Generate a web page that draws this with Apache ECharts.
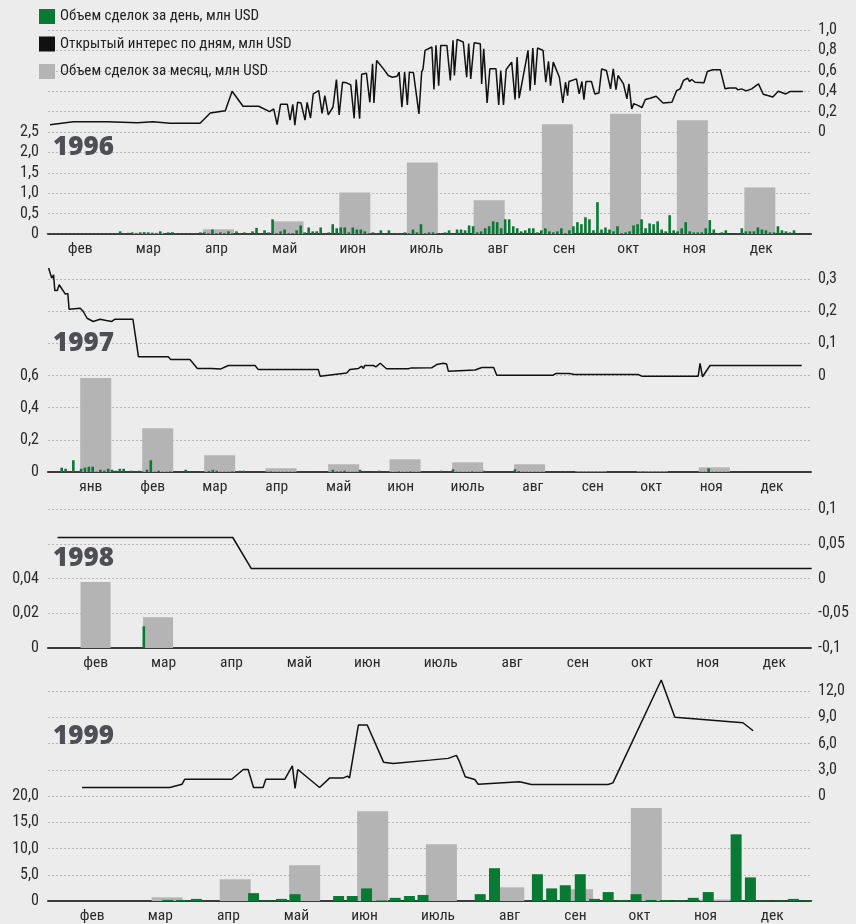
<!DOCTYPE html>
<html><head><meta charset="utf-8">
<script src="https://cdn.jsdelivr.net/npm/echarts@6/dist/echarts.min.js"></script>
<style>html,body{margin:0;padding:0;background:#ececec}#c{width:856px;height:924px}</style>
</head><body><div id="c"></div>
<script>
// ---------- DATA (x in months from 1 Jan: 0 = Jan 1, 1.5 = mid-Feb) ----------
const monthNames = ['янв','фев','мар','апр','май','июн','июль','авг','сен','окт','ноя','дек'];
const monthTicks = [0.5,1.5,2.5,3.5,4.5,5.5,6.58,7.63,8.6,9.54,10.51,11.49];
const seriesNames = ['Объем сделок за день, млн USD','Открытый интерес по дням, млн USD','Объем сделок за месяц, млн USD'];

// 1996
const monthly1996 = [[2.5,0.03],[3.53,0.115],[4.55,0.31],[5.53,1.02],[6.52,1.75],[7.5,0.83],[8.5,2.69],[9.5,2.95],[10.48,2.79],[11.47,1.14]];
const daily1996 = [ // Feb .. Dec, trading days
 [0.02,0.02,0.02,0.02,0.02,0.02,0.02,0.02,0.02,0.02,0.02,0.02,0.02,0.02,0.02,0.02,0.02],
 [0.025,0.065,0.02,0.03,0.04,0.02,0.04,0.045,0.04,0.03,0.02,0.065,0.02,0.04,0.045,0.02,0.025],
 [0.02,0.02,0.02,0.02,0.04,0.04,0.02,0.11,0.02,0.04,0.02,0.065,0.02,0.065,0.02,0.04,0.02],
 [0.065,0.15,0.02,0.09,0.04,0.36,0.02,0.065,0.11,0.02,0.02,0.09,0.21,0.04,0.16,0.065,0.065],
 [0.16,0.02,0.04,0.24,0.14,0.16,0.16,0.04,0.16,0.11,0.11,0.065,0.02,0.04,0.02,0.09,0.02],
 [0.09,0.02,0.02,0.02,0.04,0.02,0.11,0.04,0.24,0.02,0.04,0.04,0.02,0.02,0.04,0.09,0.02],
 [0.11,0.11,0.09,0.21,0.19,0.04,0.065,0.14,0.19,0.31,0.29,0.14,0.36,0.36,0.19,0.14,0.065],
 [0.09,0.14,0.14,0.04,0.09,0.14,0.065,0.04,0.065,0.14,0.02,0.09,0.19,0.29,0.24,0.41,0.36],
 [0.09,0.78,0.11,0.16,0.11,0.065,0.19,0.02,0.04,0.065,0.21,0.24,0.36,0.14,0.26,0.24,0.31],
 [0.11,0.065,0.46,0.09,0.065,0.14,0.29,0.065,0.04,0.04,0.04,0.14,0.34,0.11,0.02,0.04,0.09],
 [0.005,0.005,0.02,0.14,0.065,0.065,0.065,0.16,0.11,0.09,0.04,0.04,0.19,0.09,0.065,0.04,0.09]
];
const line1996 = [[1.06,0.072],[1.40,0.10],[1.90,0.10],[2.34,0.09],[2.57,0.10],[2.82,0.085],[3.26,0.085],[3.41,0.186],[3.63,0.209],[3.73,0.40],[3.89,0.252],[4.12,0.252],[4.28,0.20],[4.34,0.226],[4.39,0.072],[4.44,0.272],[4.54,0.272],[4.58,0.117],[4.62,0.272],[4.65,0.068],[4.69,0.291],[4.74,0.285],[4.80,0.117],[4.83,0.291],[4.88,0.137],[4.92,0.373],[5.00,0.406],[5.05,0.183],[5.09,0.357],[5.14,0.167],[5.21,0.245],[5.26,0.514],[5.30,0.167],[5.35,0.488],[5.41,0.482],[5.47,0.462],[5.52,0.134],[5.55,0.514],[5.60,0.131],[5.63,0.567],[5.70,0.577],[5.75,0.291],[5.79,0.669],[5.81,0.285],[5.85,0.701],[5.95,0.619],[6.02,0.554],[6.08,0.537],[6.15,0.547],[6.18,0.587],[6.22,0.242],[6.26,0.587],[6.30,0.265],[6.33,0.587],[6.39,0.580],[6.47,0.177],[6.51,0.587],[6.53,0.619],[6.56,0.80],[6.66,0.833],[6.69,0.416],[6.72,0.849],[6.76,0.455],[6.79,0.849],[6.88,0.849],[6.93,0.505],[6.97,0.898],[6.99,0.554],[7.03,0.908],[7.12,0.882],[7.17,0.537],[7.20,0.866],[7.23,0.521],[7.28,0.875],[7.37,0.866],[7.39,0.472],[7.42,0.816],[7.47,0.285],[7.51,0.619],[7.60,0.619],[7.64,0.265],[7.67,0.603],[7.71,0.265],[7.75,0.613],[7.83,0.685],[7.88,0.318],[7.91,0.734],[7.94,0.331],[8.07,0.80],[8.10,0.406],[8.14,0.823],[8.17,0.462],[8.21,0.823],[8.29,0.80],[8.33,0.488],[8.37,0.692],[8.40,0.455],[8.44,0.685],[8.53,0.537],[8.58,0.285],[8.62,0.488],[8.65,0.357],[8.67,0.495],[8.78,0.521],[8.82,0.373],[8.86,0.495],[8.89,0.318],[8.92,0.495],[9.00,0.495],[9.05,0.373],[9.11,0.383],[9.15,0.619],[9.22,0.603],[9.28,0.423],[9.32,0.619],[9.36,0.416],[9.39,0.554],[9.47,0.472],[9.52,0.324],[9.55,0.472],[9.59,0.226],[9.62,0.278],[9.69,0.259],[9.74,0.239],[9.79,0.318],[9.86,0.331],[9.95,0.350],[10.05,0.285],[10.18,0.291],[10.25,0.406],[10.30,0.423],[10.35,0.505],[10.41,0.528],[10.44,0.495],[10.47,0.515],[10.52,0.488],[10.65,0.482],[10.70,0.593],[10.78,0.610],[10.89,0.610],[10.96,0.423],[11.02,0.432],[11.12,0.432],[11.15,0.413],[11.20,0.423],[11.27,0.403],[11.35,0.423],[11.45,0.472],[11.52,0.370],[11.66,0.344],[11.74,0.400],[11.85,0.373],[11.91,0.396],[11.96,0.396],[12.10,0.396]];

// 1997
const monthly1997 = [[0.58,0.584],[1.58,0.272],[2.58,0.104],[3.57,0.023],[4.58,0.048],[5.57,0.079],[6.58,0.06],[7.58,0.048],[8.57,0.005],[9.56,0.005],[10.56,0.029]];
const daily1997 = [ // Jan .. Dec
 [0.027,0.02,0.002,0.073,0.002,0.02,0.027,0.033,0.033,0.002,0.014,0.008,0.02,0.014,0.008,0.02],
 [0.02,0.002,0.008,0.002,0.008,0.002,0.014,0.073,0.002,0.008,0.002,0.002,0.004,0.002,0.002,0.002],
 [0.014,0.002,0.002,0.002,0.004,0.002,0.006,0.014,0.008,0.002,0.002,0.002,0.004,0.002,0.008,0.008],
 [0.002,0.002,0.002,0.002,0.002,0.002,0.004,0.002,0.002,0.002,0.002,0.002,0.002,0.002,0.002,0.002],
 [0.002,0.002,0.002,0.002,0.002,0.002,0.014,0.004,0.004,0.008,0.002,0.002,0.002,0.014,0.002,0.002],
 [0.002,0.004,0.008,0.002,0.004,0.002,0.002,0.004,0.002,0.002,0.004,0.002,0.002,0.002,0.002,0.002],
 [0.002,0.002,0.008,0.002,0.002,0.017,0.002,0.002,0.002,0.002,0.004,0.002,0.002,0.008,0.002,0.002],
 [0.002,0.002,0.002,0.002,0.002,0.017,0.006,0.002,0.002,0.002,0.002,0.002,0.002,0.002,0.002,0.002],
 [0.002,0.002,0.004,0.002,0.002,0.002,0.002,0.002,0.002,0.002,0.002,0.002,0.002,0.002,0.002,0.002],
 [0.002,0.002,0.002,0.002,0.002,0.002,0.004,0.002,0.002,0.002,0.002,0.002,0.002,0.002,0.002,0.002],
 [0.002,0.002,0.002,0.002,0.002,0.002,0.002,0.023,0.002,0.002,0.002,0.002,0.002,0.002,0.002,0.002],
 [0.001,0.001,0.001,0.001,0.001,0.001,0.001,0.001,0.001,0.001,0.001,0.001,0.001,0.001,0.001,0.001]
];
const line1997 = [[-0.18,0.334],[-0.13,0.303],[-0.10,0.313],[-0.08,0.264],[-0.04,0.264],[-0.01,0.282],[0.09,0.253],[0.13,0.255],[0.15,0.206],[0.33,0.209],[0.38,0.199],[0.44,0.178],[0.54,0.168],[0.65,0.175],[0.75,0.171],[0.84,0.168],[0.89,0.175],[1.18,0.175],[1.27,0.058],[1.75,0.058],[1.79,0.050],[2.10,0.050],[2.22,0.022],[2.45,0.022],[2.48,0.019],[2.59,0.020],[2.72,0.031],[3.15,0.031],[3.20,0.019],[4.17,0.019],[4.20,-0.002],[4.63,0.008],[4.68,0.019],[4.82,0.022],[4.87,0.029],[4.90,0.022],[4.92,0.031],[5.06,0.031],[5.10,0.027],[5.17,0.038],[5.27,0.021],[5.62,0.021],[5.66,0.023],[6.00,0.024],[6.08,0.034],[6.19,0.038],[6.24,0.036],[6.27,0.013],[6.70,0.017],[6.81,0.025],[7.00,0.025],[7.05,0.001],[7.96,0.001],[8.00,0.006],[8.22,0.006],[8.30,0.003],[9.33,0.003],[9.39,-0.002],[10.30,-0.002],[10.33,0.038],[10.37,-0.004],[10.49,0.031],[11.97,0.031]];

// 1998
const monthly1998 = [[1.5,0.038],[2.42,0.0177]];
const daily1998 = [[2.21,0.0125]];
const line1998 = [[0.94,0.059],[3.52,0.059],[3.79,0.0144],[12.04,0.0144]];

// 1999
const monthly1999 = [[2.60,0.7],[3.60,4.14],[4.62,6.81],[5.62,17.1],[6.63,10.8],[7.62,2.6],[8.63,2.25],[9.64,17.7],[10.65,0.3]];
const daily1999 = [[2.61,0.2],[2.81,0.2],[3.03,0.4],[3.87,1.5],[4.07,0.1],[4.28,0.4],[4.48,1.3],[5.12,0.95],[5.32,0.95],[5.53,2.4],[5.75,0.1],[5.95,0.6],[6.16,0.95],[6.36,1.15],[7.20,1.3],[7.41,6.25],[8.04,5.1],[8.25,2.4],[8.45,3.0],[8.67,5.1],[8.88,0.4],[9.08,1.7],[9.29,0.2],[9.49,1.3],[9.71,0.2],[9.92,0.2],[10.13,0.15],[10.33,0.6],[10.55,1.7],[10.96,12.7],[11.17,4.5],[11.37,0.1],[11.59,0.1],[11.80,0.4],[12.00,0.1]];
const line1999 = [[1.35,0.97],[2.64,0.97],[2.82,1.35],[2.86,1.92],[3.55,1.92],[3.72,3.03],[3.79,3.03],[3.87,0.97],[4.01,0.97],[4.05,1.92],[4.33,1.92],[4.44,3.45],[4.48,0.86],[4.52,3.03],[4.84,0.97],[4.99,2.07],[5.19,2.07],[5.25,2.27],[5.28,2.07],[5.41,8.11],[5.54,8.11],[5.78,3.87],[5.92,3.72],[6.46,4.10],[6.73,4.30],[6.85,4.64],[6.89,4.02],[6.98,2.19],[7.12,1.89],[7.17,1.35],[7.78,1.62],[7.95,1.32],[9.08,1.32],[9.15,1.50],[9.86,13.26],[10.06,8.99],[11.06,8.37],[11.21,7.46]];

// ---------- FONT (pick an installed condensed face, size so legend text width matches) ----------
function pickFont() {
  const ctx = document.createElement('canvas').getContext('2d');
  const sample = seriesNames[0];
  const cands = ['Liberation Sans Narrow','Arial Narrow','Roboto Condensed','Open Sans Condensed','DejaVu Sans Condensed','Lato','Roboto'];
  for (const f of cands) {
    let ok = true;
    for (const base of ['monospace','serif']) {
      ctx.font = '15px ' + base; const w0 = ctx.measureText(sample).width;
      ctx.font = "15px '" + f + "', " + base; const w1 = ctx.measureText(sample).width;
      if (Math.abs(w1 - w0) < 0.5) ok = false;
    }
    if (ok) {
      ctx.font = "15px '" + f + "'";
      const w = ctx.measureText(sample).width;
      const size = Math.max(12.5, Math.min(16, Math.round(15 * 197 / w * 2) / 2));
      return {family: "'" + f + "', sans-serif", size};
    }
  }
  return {family: 'sans-serif', size: 13};
}
const F = pickFont();
const FONT = F.family, FS = F.size;

// ---------- BUILD ----------
function dailyPoints(months, startMonth) {
  const pts = [];
  months.forEach((arr, i) => {
    const m = startMonth + i;
    arr.forEach((v, j) => pts.push([m + (j + 0.5) / arr.length, v]));
  });
  return pts;
}
function numFmt(v, dec, trim) {
  if (Math.abs(v) < 1e-9) return '0';
  let s = v.toFixed(dec);
  if (trim) s = String(parseFloat(s));
  return s.replace('.', ',');
}
const GREEN = '#087a33', GRAY = '#b3b4b3', LINE = '#111111';

const panels = [
  {year:'1996', top:30, height:204, xmin:1.03, xmax:12.22, firstMonth:1,
   L:{max:5, int:0.5, show:2.5, dec:1}, R:{min:-1, max:1, int:0.2, from:0, dec:1, trim:false},
   gray:monthly1996, green:dailyPoints(daily1996,1), line:line1996, grayW:31, greenW:2.6, yearTop:135},
  {year:'1997', top:279, height:193, xmin:-0.19, xmax:12.12, firstMonth:0,
   L:{max:1.2, int:0.2, show:0.6, dec:1}, R:{min:-0.3, max:0.3, int:0.1, from:0, dec:1, trim:false},
   gray:monthly1997, green:dailyPoints(daily1997,0), line:line1997, grayW:31, greenW:2.6, yearTop:331},
  {year:'1998', top:509, height:139, xmin:0.80, xmax:12.03, firstMonth:1,
   L:{max:0.08, int:0.02, show:0.04, dec:2}, R:{min:-0.1, max:0.1, int:0.05, from:-1, dec:2, trim:true},
   gray:monthly1998, green:daily1998, line:line1998, grayW:30, greenW:2.6, yearTop:546},
  {year:'1999', top:691, height:210, xmin:0.85, xmax:12.06, firstMonth:1,
   L:{max:40, int:5, show:20, dec:1}, R:{min:-12, max:12, int:3, from:0, dec:1, trim:false},
   gray:monthly1999, green:daily1999, line:line1999, grayW:31, greenW:11, yearTop:724}
];

const grid = [], xAxis = [], yAxis = [], series = [], graphic = [];
panels.forEach((p, i) => {
  grid.push({left:48, right:45, top:p.top, height:p.height});
  const ticks = monthTicks.slice(p.firstMonth);
  xAxis.push({
    type:'value', gridIndex:i, min:p.xmin, max:p.xmax,
    axisLine:{show:true, onZero:false, lineStyle:{color:'#3a3a3a', width:2}},
    axisTick:{show:false}, splitLine:{show:false},
    axisLabel:{customValues:ticks, color:'#2b2b2b', fontFamily:FONT, fontSize:FS + 0.5, margin:7,
      formatter: v => { let best = 0; monthTicks.forEach((t, k) => { if (Math.abs(t - v) < Math.abs(monthTicks[best] - v)) best = k; }); return monthNames[best]; }}
  });
  xAxis.push({type:'value', gridIndex:i, min:p.xmin, max:p.xmax, show:false});
  yAxis.push({
    type:'value', gridIndex:i, position:'left', min:0, max:p.L.max, interval:p.L.int,
    axisLine:{show:false}, axisTick:{show:false},
    splitLine:{show:true, lineStyle:{color:'#b9b9b9', type:[2,2], width:1}},
    axisLabel:{color:'#2b2b2b', fontFamily:FONT, fontSize:FS + 1, margin:9,
      formatter: v => v > p.L.show + 1e-9 ? '' : numFmt(v, p.L.dec, false)}
  });
  yAxis.push({
    type:'value', gridIndex:i, position:'right', min:p.R.min, max:p.R.max, interval:p.R.int,
    axisLine:{show:false}, axisTick:{show:false}, splitLine:{show:false},
    axisLabel:{color:'#2b2b2b', fontFamily:FONT, fontSize:FS + 1, margin:7,
      formatter: v => v < p.R.from * p.R.max - 1e-9 ? '' : numFmt(v, p.R.dec, p.R.trim)}
  });
  series.push({name:seriesNames[2], type:'bar', xAxisIndex:2*i, yAxisIndex:2*i, data:p.gray,
    barWidth:p.grayW, itemStyle:{color:GRAY}, z:2});
  series.push({name:seriesNames[0], type:'bar', xAxisIndex:2*i+1, yAxisIndex:2*i, data:p.green,
    barWidth:p.greenW, itemStyle:{color:GREEN}, z:3});
  series.push({name:seriesNames[1], type:'line', xAxisIndex:2*i, yAxisIndex:2*i+1, data:p.line,
    symbol:'none', clip:false, lineStyle:{color:LINE, width:1.5}, itemStyle:{color:LINE}, z:4});
  graphic.push({type:'text', left:53, top:p.yearTop, z:10,
    style:{text:p.year, font:"800 26px 'Open Sans'", fill:'#4d4f55'}});
});

const chart = echarts.init(document.getElementById('c'));
chart.setOption({
  animation:false,
  backgroundColor:'#ececec',
  textStyle:{fontFamily:FONT},
  legend:{data:[seriesNames[0], seriesNames[1], seriesNames[2]], orient:'vertical', left:39, top:9,
    itemWidth:16, itemHeight:15, itemGap:12.5, icon:'rect', padding:0,
    textStyle:{fontFamily:FONT, fontSize:FS, color:'#222'}},
  grid, xAxis, yAxis, series, graphic
});
</script>
</body></html>
